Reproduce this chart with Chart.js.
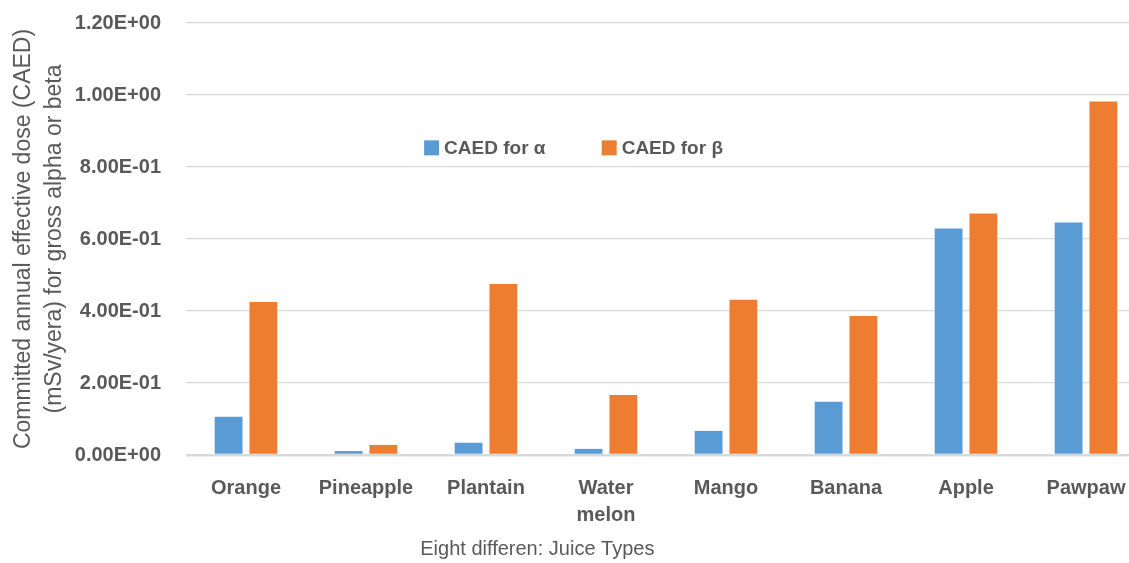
<!DOCTYPE html>
<html>
<head>
<meta charset="utf-8">
<script src="https://cdn.jsdelivr.net/npm/chart.js@4"></script>
<style>
  html, body { margin: 0; padding: 0; background: #ffffff; overflow: hidden; }
  #wrap { position: relative; width: 1150px; height: 563px; }
</style>
</head>
<body>
<div id="wrap"><canvas id="c"></canvas></div>
<script>
const categories = ['Orange', 'Pineapple', 'Plantain', ['Water', 'melon'], 'Mango', 'Banana', 'Apple', 'Pawpaw'];
const alphaValues = [0.106, 0.011, 0.034, 0.017, 0.067, 0.148, 0.629, 0.646];
const betaValues = [0.425, 0.028, 0.475, 0.167, 0.431, 0.386, 0.671, 0.982];
const seriesNames = ['CAED for \u03b1', 'CAED for \u03b2'];
const yTickValues = [0, 0.2, 0.4, 0.6, 0.8, 1.0, 1.2];
const yTickLabels = ['0.00E+00', '2.00E-01', '4.00E-01', '6.00E-01', '8.00E-01', '1.00E+00', '1.20E+00'];
const yTitle = ['Committed annual effective dose (CAED)', '(mSv/yera) for gross alpha or beta'];
const xTitle = 'Eight differen: Juice Types';

const textColor = '#595959';
const gridColor = '#d9d9d9';

const insideLegend = {
  id: 'insideLegend',
  afterDraw(chart) {
    const ctx = chart.ctx;
    const area = chart.chartArea;
    const w = area.right - area.left;
    const h = area.bottom - area.top;
    const startX = [area.left + w * 0.248, area.left + w * 0.433];
    const cy = area.top + h * 0.289;
    ctx.save();
    ctx.font = 'bold 19px "Liberation Sans", Arial, sans-serif';
    ctx.textBaseline = 'middle';
    ctx.textAlign = 'left';
    chart.data.datasets.forEach((ds, i) => {
      ctx.fillStyle = ds.backgroundColor;
      ctx.fillRect(startX[i], cy - 7.5, 15, 15);
      ctx.fillStyle = textColor;
      ctx.fillText(ds.label, startX[i] + 20, cy + 1);
    });
    // x-axis title
    ctx.font = '20px "Liberation Sans", Arial, sans-serif';
    ctx.textAlign = 'center';
    ctx.fillStyle = textColor;
    ctx.fillText(xTitle, area.left + w * 0.366, 549);
    ctx.restore();
  }
};

new Chart(document.getElementById('c'), {
  type: 'bar',
  data: {
    labels: categories,
    datasets: [
      { label: seriesNames[0], data: alphaValues, backgroundColor: '#5B9BD5' },
      { label: seriesNames[1], data: betaValues, backgroundColor: '#ED7D31' }
    ]
  },
  options: {
    responsive: true,
    maintainAspectRatio: false,
    animation: false,
    devicePixelRatio: 1,
    layout: { padding: { top: 23, right: 4, bottom: 14, left: 8 } },
    datasets: { bar: { categoryPercentage: 0.58, barPercentage: 0.8 } },
    plugins: { legend: { display: false }, tooltip: { enabled: false } },
    scales: {
      x: {
        grid: { display: false, drawTicks: false },
        border: { display: false },
        ticks: {
          color: textColor,
          font: { family: '"Liberation Sans", Arial, sans-serif', size: 20, weight: 'bold', lineHeight: 1.35 },
          padding: 20,
          maxRotation: 0,
          autoSkip: false
        }
      },
      y: {
        min: 0,
        max: 1.2,
        afterBuildTicks(scale) { scale.ticks = yTickValues.map(v => ({ value: v })); },
        afterFit(scale) {
          scale.width = 178;
          scale.paddingTop = 12;
          scale.paddingBottom = 12;
        },
        grid: {
          color: gridColor,
          lineWidth: ctx => (ctx.tick && ctx.tick.value === 0 ? 2.5 : 1.3),
          drawTicks: false
        },
        border: { display: false },
        ticks: {
          color: textColor,
          font: { family: '"Liberation Sans", Arial, sans-serif', size: 20, weight: 'bold' },
          padding: 25,
          callback: (v, i) => yTickLabels[i]
        },
        title: {
          display: true,
          text: yTitle,
          color: textColor,
          font: { family: '"Liberation Sans", Arial, sans-serif', size: 23, lineHeight: 1.35 },
          padding: { top: 0, bottom: 0 }
        }
      }
    }
  },
  plugins: [insideLegend]
});
</script>
</body>
</html>
